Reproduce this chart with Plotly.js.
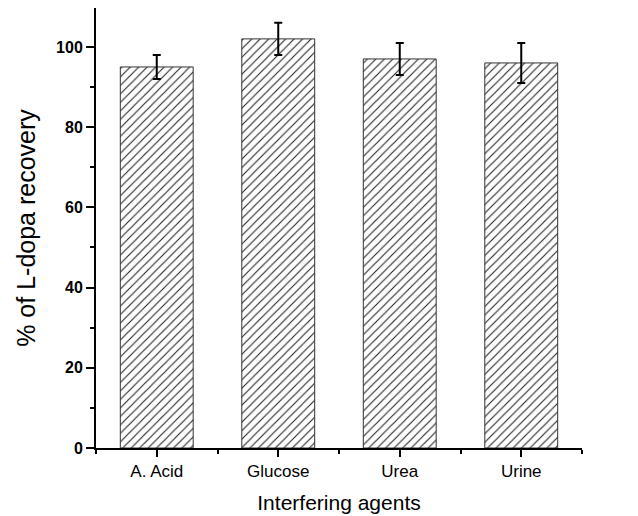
<!DOCTYPE html>
<html>
<head>
<meta charset="utf-8">
<script src="https://cdn.plot.ly/plotly-3.0.1.min.js"></script>
<style>html,body{margin:0;padding:0;background:#fff;}#chart{width:638px;height:516px;}</style>
</head>
<body>
<div id="chart"></div>
<script>
var categories = ["A. Acid", "Glucose", "Urea", "Urine"];
var recovery = [95, 102, 97, 96];
var errors = [3, 4, 4, 5];

var xpos = categories.map(function (_, i) { return i; });

var trace = {
  type: "bar",
  x: xpos,
  y: recovery,
  width: 0.6,
  marker: {
    color: "#ffffff",
    line: { color: "#333333", width: 1 },
    pattern: { shape: "/", fgcolor: "#222222", bgcolor: "#ffffff", size: 6, solidity: 0.18 }
  },
  error_y: { type: "data", array: errors, visible: true, color: "#000000", thickness: 2, width: 4 },
  hoverinfo: "none"
};

var layout = {
  width: 638,
  height: 516,
  margin: { l: 96, r: 56, t: 8, b: 68 },
  paper_bgcolor: "#ffffff",
  plot_bgcolor: "#ffffff",
  showlegend: false,
  font: { family: "Liberation Sans, Arial, sans-serif", color: "#000000" },
  xaxis: {
    range: [-0.5, 3.5],
    tickmode: "array",
    tickvals: xpos,
    ticktext: categories,
    showgrid: false,
    zeroline: false,
    showline: true,
    linecolor: "#000000",
    linewidth: 2,
    ticks: "outside",
    ticklen: 7,
    tickwidth: 2,
    tickcolor: "#000000",
    tickfont: { size: 17, color: "#000000" },
    minor: { tickmode: "linear", tick0: 0.5, dtick: 1, ticks: "outside", ticklen: 4, tickwidth: 2, tickcolor: "#000000" },
    title: { text: "Interfering agents", font: { size: 21 }, standoff: 15 }
  },
  yaxis: {
    range: [0, 109.7],
    tickmode: "linear",
    tick0: 0,
    dtick: 20,
    showgrid: false,
    zeroline: false,
    showline: true,
    linecolor: "#000000",
    linewidth: 2,
    ticks: "outside",
    ticklen: 8,
    tickwidth: 2,
    tickcolor: "#000000",
    tickfont: { size: 16, color: "#000000", weight: "bold" },
    minor: { tickmode: "linear", tick0: 10, dtick: 20, ticks: "outside", ticklen: 4, tickwidth: 2, tickcolor: "#000000" },
    title: { text: "% of L-dopa recovery", font: { size: 25 }, standoff: 13 }
  }
};

Plotly.newPlot("chart", [trace], layout, { displayModeBar: false, staticPlot: true });
</script>
</body>
</html>
